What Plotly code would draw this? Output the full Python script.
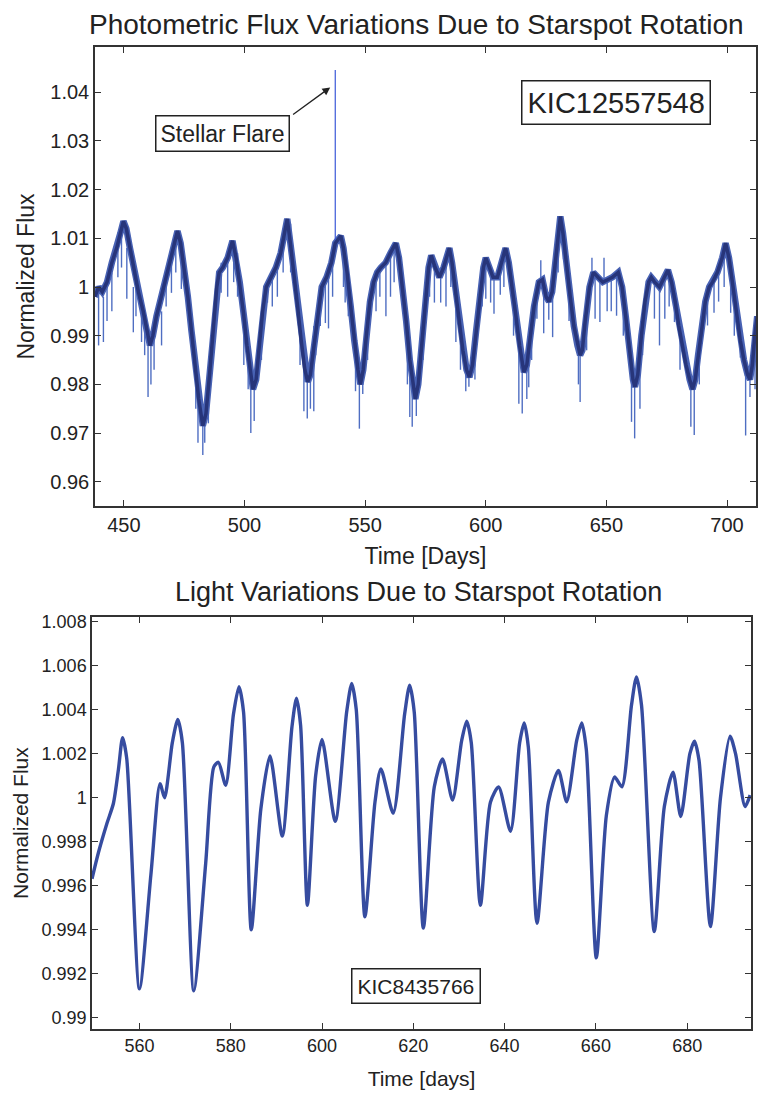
import plotly.graph_objects as go

# ---------------- Top panel: KIC12557548 ----------------
top_day = [438.0, 439.5, 441.0, 443.0, 445.0, 447.0, 448.5, 449.8, 451.0, 452.5,
           454.0, 456.0, 458.0, 459.5, 460.8, 462.0, 463.5, 465.0, 467.0, 469.0,
           471.0, 472.2, 473.5, 475.0, 476.5, 478.0, 479.5, 481.0, 482.7, 484.0,
           485.5, 487.0, 488.5, 489.5, 491.0, 493.0, 495.0, 496.5, 498.0, 499.5,
           501.0, 502.5, 503.5, 504.8, 506.0, 507.5, 509.0, 511.0, 513.0, 515.0,
           516.5, 517.7, 519.0, 520.5, 522.0, 523.5, 525.0, 526.2, 527.3, 528.8,
           530.5, 532.0, 534.0, 536.0, 537.6, 539.9, 541.0, 542.5, 544.0, 545.5,
           547.0, 548.0, 549.2, 550.5, 552.0, 553.5, 555.0, 556.5, 558.5, 560.5,
           562.7, 564.0, 565.5, 567.0, 568.5, 570.0, 570.8, 572.0, 573.5, 575.0,
           576.3, 577.4, 579.0, 580.8, 582.5, 584.9, 586.0, 587.5, 589.0, 590.5,
           592.0, 593.2, 594.5, 596.0, 597.5, 599.0, 600.0, 601.5, 603.0, 604.8,
           606.5, 608.2, 609.5, 611.0, 612.5, 614.0, 615.8, 617.0, 618.3, 620.0,
           622.0, 623.5, 625.0, 626.2, 627.5, 629.0, 630.9, 632.0, 633.5, 635.0,
           636.5, 638.0, 639.1, 640.0, 641.2, 643.0, 644.6, 646.5, 648.5, 650.5,
           652.5, 654.9, 656.5, 658.0, 659.5, 661.0, 661.8, 663.0, 664.5, 666.0,
           667.5, 668.6, 670.0, 672.0, 674.0, 675.5, 677.0, 678.5, 680.0, 681.5,
           683.0, 684.5, 685.7, 686.8, 688.0, 689.5, 691.0, 692.6, 694.0, 696.0,
           698.0, 699.4, 700.8, 702.5, 704.0, 705.5, 707.0, 708.5, 709.5, 710.5,
           711.5, 712.5]
top_flux = [0.998, 1.000, 0.999, 1.001, 1.005, 1.008, 1.011, 1.0135, 1.012, 1.008,
            1.004, 0.999, 0.995, 0.991, 0.988, 0.990, 0.994, 0.997, 1.001, 1.005,
            1.009, 1.0115, 1.009, 1.004, 0.998, 0.991, 0.984, 0.977, 0.9715, 0.974,
            0.982, 0.992, 1.000, 1.003, 1.004, 1.006, 1.0095, 1.006, 1.001, 0.995,
            0.988, 0.982, 0.979, 0.981, 0.987, 0.995, 1.000, 1.002, 1.004, 1.007,
            1.011, 1.014, 1.009, 1.003, 0.996, 0.989, 0.983, 0.9805, 0.982, 0.988,
            0.995, 1.000, 1.002, 1.005, 1.009, 1.0105, 1.008, 1.003, 0.996, 0.989,
            0.983, 0.980, 0.983, 0.990, 0.997, 1.001, 1.003, 1.004, 1.005, 1.007,
            1.009, 1.006, 1.000, 0.993, 0.985, 0.979, 0.977, 0.980, 0.989, 0.998,
            1.004, 1.0065, 1.004, 1.002, 1.004, 1.008, 1.005, 0.999, 0.993, 0.987,
            0.983, 0.9815, 0.984, 0.991, 0.998, 1.004, 1.006, 1.004, 1.002, 1.002,
            1.005, 1.008, 1.005, 1.000, 0.994, 0.988, 0.9825, 0.984, 0.989, 0.996,
            1.001, 1.0015, 0.998, 0.997, 0.999, 1.006, 1.0145, 1.011, 1.004, 0.998,
            0.992, 0.988, 0.986, 0.987, 0.993, 1.000, 1.003, 1.002, 1.001, 1.0015,
            1.002, 1.003, 1.000, 0.994, 0.987, 0.981, 0.9795, 0.982, 0.990, 0.997,
            1.001, 1.002, 1.001, 1.000, 1.002, 1.0035, 1.001, 0.997, 0.992, 0.988,
            0.984, 0.981, 0.979, 0.981, 0.986, 0.992, 0.997, 1.000, 1.001, 1.003,
            1.006, 1.009, 1.006, 1.000, 0.994, 0.989, 0.985, 0.982, 0.981, 0.984,
            0.990, 0.994]

# short-cadence noise spikes: day, upper end, lower end
spike_day = [439.5, 441.5, 445.0, 451.2, 453.9, 457.3, 460.0, 461.2, 465.6, 469.7,
             473.8, 480.7, 482.7, 483.5, 490.3, 493.0, 497.1, 499.7, 502.6, 504.0,
             509.5, 511.5, 513.6, 519.1, 520.5, 524.6, 526.0, 527.3, 528.7, 531.4,
             533.5, 534.8, 541.0, 541.7, 546.0, 547.6, 549.0, 556.1, 558.6, 560.5,
             568.5, 569.5, 571.2, 576.7, 578.7, 581.3, 583.5, 587.6, 591.7, 593.0,
             600.0, 602.0, 603.4, 606.0, 613.7, 615.1, 617.0, 617.8, 621.2, 624.0,
             626.1, 627.7, 632.2, 638.4, 639.1, 645.3, 647.3, 650.3, 654.2, 660.4,
             661.7, 663.9, 669.9, 672.0, 674.2, 678.2, 685.0, 686.4, 691.9, 694.6,
             698.8, 701.5, 705.5, 707.7, 709.5, 711.6,
             443.0, 447.5, 449.0, 455.0, 458.6, 462.5, 467.5, 471.5, 479.8, 485.0,
             488.0, 495.5, 501.5, 507.0, 516.0, 523.0, 529.5, 536.5, 543.0, 551.0,
             554.5, 562.0, 567.5, 574.0, 585.5, 589.5, 595.5, 598.5, 607.5, 611.5,
             619.0, 630.0, 634.5, 641.8, 652.0, 657.0, 665.0, 676.0, 680.5, 688.5,
             696.5, 703.0, 622.8, 644.0, 649.0]
spike_hi = [1.000, 0.998, 1.003, 1.008, 1.000, 0.995, 0.990, 0.990, 0.995, 1.005,
            1.010, 0.978, 0.975, 0.975, 1.005, 1.007, 1.007, 0.994, 0.982, 0.981,
            1.000, 1.002, 1.004, 1.013, 1.005, 0.985, 0.982, 0.982, 0.992, 1.000,
            1.002, 1.002, 1.008, 1.007, 0.988, 0.982, 0.983, 1.004, 1.005, 1.007,
            0.985, 0.981, 0.980, 1.004, 1.004, 1.002, 1.006, 0.997, 0.984, 0.982,
            1.006, 1.004, 1.002, 1.005, 0.990, 0.985, 0.984, 0.988, 1.001, 1.000,
            0.998, 0.999, 1.012, 0.987, 0.986, 1.003, 1.002, 1.001, 1.003, 0.981,
            0.980, 0.984, 1.001, 1.000, 1.002, 0.997, 0.979, 0.980, 0.999, 1.001,
            1.008, 1.005, 0.989, 0.984, 0.981, 0.988,
            1.001, 1.009, 1.012, 1.002, 0.994, 0.991, 1.002, 1.010, 0.983, 0.979,
            0.998, 1.009, 0.987, 0.993, 1.010, 0.992, 0.993, 1.006, 1.002, 0.993,
            1.002, 1.008, 0.990, 0.993, 1.007, 0.991, 0.989, 1.003, 1.007, 0.998,
            0.993, 1.011, 1.001, 0.995, 1.002, 0.998, 0.994, 1.003, 0.991, 0.988,
            1.004, 0.998, 1.0055, 1.006, 1.006]
spike_lo = [0.988, 0.9887, 0.995, 0.9976, 0.9907, 0.9887, 0.9774, 0.980, 0.988, 0.9988,
            0.9996, 0.968, 0.9655, 0.968, 0.9988, 0.998, 0.998, 0.984, 0.970, 0.9725,
            0.9968, 0.996, 0.998, 1.003, 1.002, 0.9745, 0.973, 0.975, 0.9745, 0.992,
            0.9926, 0.9915, 1.000, 0.9968, 0.9786, 0.9709, 0.978, 0.998, 0.994, 0.998,
            0.9733, 0.9713, 0.9735, 0.998, 0.9968, 0.9968, 0.996, 0.9887, 0.9786, 0.9795,
            0.9976, 0.9968, 0.9945, 0.9984, 0.976, 0.974, 0.977, 0.9794, 0.9935, 0.9905,
            0.9933, 0.9897, 1.0057, 0.980, 0.9764, 0.9935, 0.9928, 0.995, 0.9941, 0.9723,
            0.9689, 0.975, 0.9935, 0.988, 0.9935, 0.9928, 0.9713, 0.9696, 0.9921, 0.9947,
            1.000, 0.9947, 0.9855, 0.9695, 0.9774, 0.979,
            0.993, 1.002, 1.004, 0.994, 0.986, 0.983, 0.996, 1.003, 0.975, 0.972,
            0.992, 1.001, 0.979, 0.985, 1.003, 0.984, 0.986, 0.998, 0.994, 0.985,
            0.995, 1.001, 0.980, 0.985, 1.000, 0.983, 0.981, 0.996, 1.000, 0.990,
            0.985, 1.003, 0.993, 0.987, 0.995, 0.990, 0.986, 0.996, 0.983, 0.980,
            0.997, 0.990, 1.001, 1.002, 1.001]

flare_day = [537.6, 537.6]
flare_flux = [1.0097, 1.0446]

top_xticks = [450, 500, 550, 600, 650, 700]
top_yticks = [0.96, 0.97, 0.98, 0.99, 1.00, 1.01, 1.02, 1.03, 1.04]
top_yticklabels = ["0.96", "0.97", "0.98", "0.99", "1", "1.01", "1.02", "1.03", "1.04"]

# ---------------- Bottom panel: KIC8435766 ----------------
bot_day = [549.6, 551.0, 552.9, 554.3, 555.4, 556.3, 557.2, 560.0, 562.5, 564.5,
           565.5, 567.2, 568.4, 569.4, 571.9, 574.5, 576.3, 577.3, 578.9, 580.6,
           581.8, 582.8, 584.5, 586.6, 588.6, 591.3, 593.4, 594.4, 595.3, 596.8,
           598.6, 600.0, 602.9, 605.4, 606.5, 607.5, 609.4, 611.6, 612.9, 615.6,
           618.1, 619.2, 620.2, 622.2, 624.6, 626.4, 628.6, 630.6, 631.7, 632.7,
           634.7, 636.9, 638.7, 641.3, 643.3, 644.3, 645.2, 647.1, 649.6, 651.8,
           653.6, 655.8, 656.9, 657.9, 660.1, 662.3, 664.1, 665.7, 667.8, 668.9,
           670.0, 672.8, 675.0, 676.9, 678.6, 680.6, 681.6, 682.6, 685.1, 687.3,
           689.4, 690.6, 692.7, 693.8]
bot_flux = [0.99632, 0.99750, 0.99885, 0.99975, 1.00130, 1.00273, 1.00180, 0.99132, 0.99650, 1.00064,
            1.00000, 1.00250, 1.00355, 1.00250, 0.99124, 0.99700, 1.00140, 1.00161, 1.00057, 1.00380,
            1.00504, 1.00390, 0.99400, 0.99950, 1.00190, 0.99826, 1.00320, 1.00452, 1.00330, 0.99512,
            1.00100, 1.00265, 0.99893, 1.00390, 1.00519, 1.00400, 0.99460, 0.99980, 1.00131, 0.99930,
            1.00380, 1.00511, 1.00390, 0.99408, 1.00050, 1.00176, 0.99990, 1.00260, 1.00348, 1.00250,
            0.99512, 0.99980, 1.00049, 0.99848, 1.00250, 1.00340, 1.00230, 0.99430, 0.99980, 1.00124,
            0.99982, 1.00260, 1.00340, 1.00220, 0.99273, 0.99920, 1.00094, 1.00050, 1.00420, 1.00549,
            1.00420, 0.99393, 0.99960, 1.00116, 0.99915, 1.00200, 1.00257, 1.00170, 0.99415, 1.00000,
            1.00280, 1.00200, 0.99960, 1.00012]

bot_xticks = [560, 580, 600, 620, 640, 660, 680]
bot_yticks = [0.990, 0.992, 0.994, 0.996, 0.998, 1.000, 1.002, 1.004, 1.006, 1.008]
bot_yticklabels = ["0.99", "0.992", "0.994", "0.996", "0.998", "1", "1.002", "1.004", "1.006", "1.008"]

FONT = "Liberation Sans, Arial, Helvetica, sans-serif"
TXT = "#222222"
AX = "#333333"

spk_x, spk_y = [], []
for d, h, l in zip(spike_day, spike_hi, spike_lo):
    spk_x += [d, d, None]
    spk_y += [h, l, None]

fig = go.Figure()
fig.add_trace(go.Scatter(x=spk_x, y=spk_y, mode="lines",
                         line=dict(color="#4f6ec2", width=1.4),
                         xaxis="x", yaxis="y", showlegend=False, hoverinfo="skip"))
fig.add_trace(go.Scatter(x=top_day, y=top_flux, mode="lines",
                         line=dict(color="#4862b4", width=6.5),
                         xaxis="x", yaxis="y", showlegend=False, hoverinfo="skip"))
fig.add_trace(go.Scatter(x=top_day, y=top_flux, mode="lines",
                         line=dict(color="#27357a", width=3.5),
                         xaxis="x", yaxis="y", showlegend=False, name="KIC12557548"))
fig.add_trace(go.Scatter(x=flare_day, y=flare_flux, mode="lines",
                         line=dict(color="#3a58d8", width=1.2),
                         xaxis="x", yaxis="y", showlegend=False, name="flare"))
fig.add_trace(go.Scatter(x=bot_day, y=bot_flux, mode="lines",
                         line=dict(color="#364ca0", width=3.4, shape="spline", smoothing=0.7),
                         xaxis="x2", yaxis="y2", showlegend=False, name="KIC8435766"))

axis_common = dict(showline=True, mirror="allticks", ticks="inside", ticklen=6,
                   tickwidth=1.2, tickcolor=AX, linecolor=AX, linewidth=1.5,
                   showgrid=False, zeroline=False)

fig.update_layout(
    width=765, height=1091,
    margin=dict(l=77, r=17, t=39, b=53),
    paper_bgcolor="white", plot_bgcolor="white",
    font=dict(family=FONT, color=TXT),
    xaxis=dict(domain=[0.00447, 1.0], anchor="y", range=[438, 712],
               tickvals=top_xticks, tickfont=dict(size=20),
               title=dict(text="Time [Days]", font=dict(size=23), standoff=13),
               **axis_common),
    yaxis=dict(domain=[0.5325, 1.0], anchor="x", range=[0.955, 1.0493],
               tickvals=top_yticks, ticktext=top_yticklabels, tickfont=dict(size=20),
               title=dict(text="Normalized Flux", font=dict(size=23), standoff=9),
               **axis_common),
    xaxis2=dict(domain=[0.0, 0.99255], anchor="y2", range=[549.6, 694],
                tickvals=bot_xticks, tickfont=dict(size=18),
                title=dict(text="Time [days]", font=dict(size=21), standoff=16),
                **axis_common),
    yaxis2=dict(domain=[0.0, 0.4194], anchor="x2", range=[0.9895, 1.0082],
                tickvals=bot_yticks, ticktext=bot_yticklabels, tickfont=dict(size=18),
                title=dict(text="Normalized Flux", font=dict(size=21), standoff=7),
                **axis_common),
)

annotations = [
    dict(text="Photometric Flux Variations Due to Starspot Rotation",
         xref="paper", yref="paper", x=0.488, y=1.0, yshift=5,
         xanchor="center", yanchor="bottom", showarrow=False,
         font=dict(size=28, color=TXT)),
    dict(text="Light Variations Due to Starspot Rotation",
         xref="paper", yref="paper", x=0.4918, y=0.4194, yshift=8,
         xanchor="center", yanchor="bottom", showarrow=False,
         font=dict(size=27, color=TXT)),
    dict(text="KIC12557548", xref="x", yref="y", x=654.0, y=1.038,
         showarrow=False, font=dict(size=29, color=TXT),
         bordercolor="#222", borderwidth=1.5, borderpad=5, bgcolor="white"),
    dict(text="Stellar Flare", xref="x", yref="y", x=490.7, y=1.0316,
         showarrow=False, font=dict(size=23, color=TXT),
         bordercolor="#222", borderwidth=1.5, borderpad=4, bgcolor="white"),
    dict(text="", xref="x", yref="y", x=535.5, y=1.041,
         axref="x", ayref="y", ax=519.5, ay=1.0352,
         showarrow=True, arrowhead=2, arrowsize=1.2, arrowwidth=1.3, arrowcolor="#222"),
    dict(text="KIC8435766", xref="x2", yref="y2", x=620.5, y=0.99147,
         showarrow=False, font=dict(size=21, color=TXT),
         bordercolor="#222", borderwidth=1.5, borderpad=5, bgcolor="white"),
]
fig.update_layout(annotations=annotations)

fig.write_html("out.html")
